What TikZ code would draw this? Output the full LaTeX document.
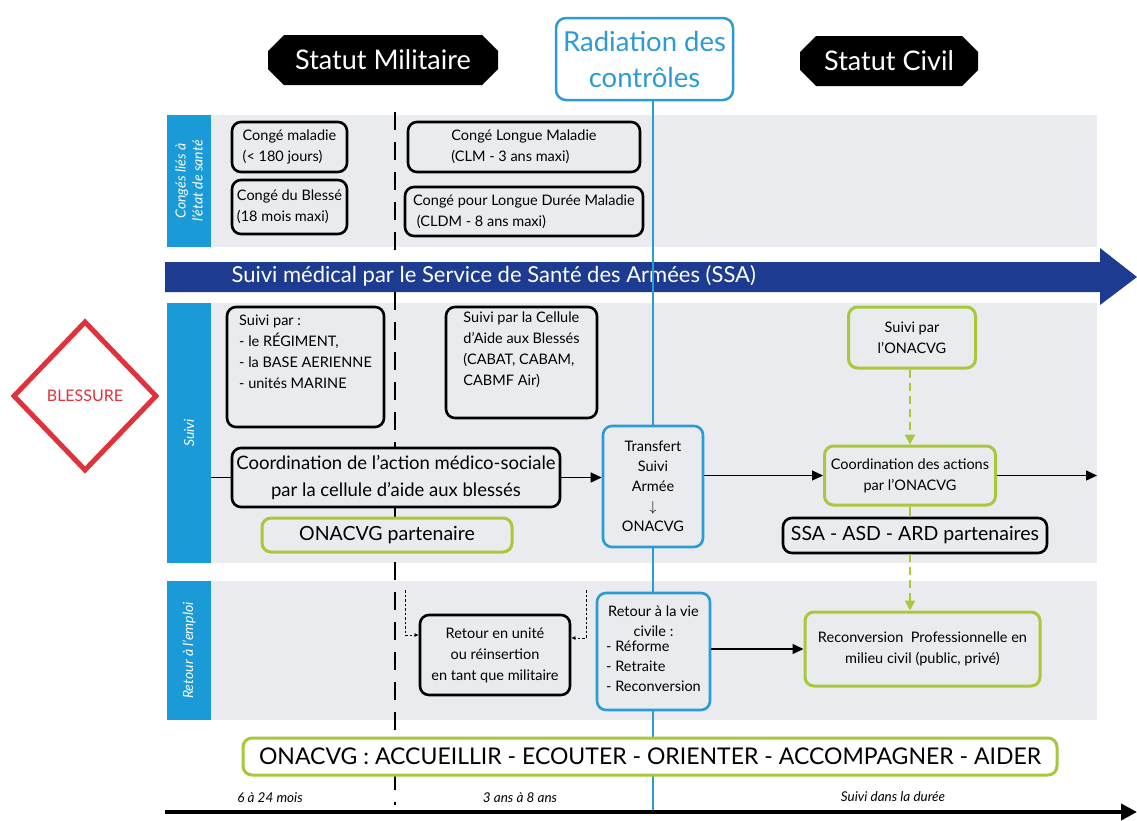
\documentclass[tikz,border=0pt]{standalone}
\usepackage{fontspec}
\setmainfont{Lato}
\usetikzlibrary{shapes.geometric,shapes.misc,arrows.meta}
\definecolor{bandgray}{HTML}{E9EBEE}
\definecolor{labelblue}{HTML}{1B9AD8}
\definecolor{navy}{HTML}{1D3C91}
\definecolor{lime}{HTML}{A8C83C}
\definecolor{radblue}{HTML}{2C9BD3}
\definecolor{blessred}{HTML}{E0323C}
\newcommand{\fs}[2]{\fontsize{#1}{#2}\selectfont}
\tikzset{
    box/.style={
        draw,
        rounded corners=9pt,
        line width=2.6pt,
        fill=bandgray,
        inner sep=1pt,
        align=center,
        font=\fs{14.5}{21}
    },
    blackbox/.style={box,draw=black},
    greenbox/.style={box,draw=lime,line width=3pt},
    bluebox/.style={box,draw=radblue},
    statut/.style={
        chamfered rectangle,
        chamfered rectangle xsep=7pt,
        chamfered rectangle ysep=9pt,
        fill=black,
        text=white,
        minimum height=50pt,
        inner sep=0pt,
        font=\fs{27}{30}
    },
    sidelabel/.style={
        fill=labelblue,
        text=white,
        rotate=90,
        align=center,
        minimum height=44pt,
        inner sep=0pt,
        font=\fs{14}{17}\itshape
    },
    flow/.style={-{Triangle[length=11pt,width=10pt]},line width=1.3pt},
    greenflow/.style={-{Triangle[length=10pt,width=10pt]},line width=2.2pt,lime,dash pattern=on 8pt off 5pt},
    dotflow/.style={-{Latex[length=4pt,width=4pt]},line width=1pt,dash pattern=on 2.5pt off 2pt},
    period/.style={font=\fs{13.5}{15}\itshape}
}
\begin{document}
\begin{tikzpicture}[x=1pt,y=-1pt]
    \useasboundingbox[fill=white] (0,0) rectangle (1137,820);
    % bands
    \foreach \top/\bot in {115/247,303/563,581/720}
        \fill[bandgray] (211,\top) rectangle (1097,\bot);
    \node[sidelabel,minimum width=132pt] (lconges) at (189,181) {Congés liés à\\l’état de santé};
    \node[sidelabel,minimum width=260pt] (lsuivi) at (189,433) {Suivi};
    \node[sidelabel,minimum width=139pt] (lretour) at (189,650.5) {Retour à l’emploi};
    % statut headers
    \node[statut,minimum width=230pt] (militaire) at (383,60) {Statut Militaire};
    \node[statut,minimum width=178pt] (civil) at (889,61) {Statut Civil};
    \node[draw=radblue,line width=2.5pt,rounded corners=10pt,fill=white,text=radblue,
        minimum width=177pt,minimum height=82pt,inner sep=1pt,align=center,font=\fs{27.5}{36}]
        (radiation) at (644.5,59) {Radiation des\\contrôles};
    % militaire limit
    \draw[line width=1.5pt,dash pattern=on 18pt off 12pt] (395,112) -- (395,805);
    % medical arrow
    \fill[navy] (165,262) -- (1100,262) -- (1100,248) -- (1137,277) -- (1100,305)
        -- (1100,292) -- (165,292) -- cycle;
    \node[text=white,anchor=west,font=\fs{22}{24}] (ssamed) at (228,276)
        {Suivi médical par le Service de Santé des Armées (SSA)};
    % conges
    \node[blackbox,minimum width=115pt,minimum height=50pt,align=left] (cmaladie) at (289.5,147)
        {Congé maladie\\(< 180 jours)};
    \node[blackbox,minimum width=115pt,minimum height=54pt,align=left] (cblesse) at (289.5,207)
        {Congé du Blessé\\(18 mois maxi)};
    \node[blackbox,minimum width=232pt,minimum height=50pt,align=left] (clm) at (524,147)
        {Congé Longue Maladie\\(CLM - 3 ans maxi)};
    \node[blackbox,minimum width=238pt,minimum height=49pt,align=left] (cldm) at (524,211.5)
        {Congé pour Longue Durée Maladie\\\ (CLDM - 8 ans maxi)};
    % blessure
    \node[diamond,draw=blessred,line width=5pt,fill=white,text=blessred,
        minimum width=144pt,minimum height=150pt,inner sep=0pt,font=\fs{16}{18}]
        (blessure) at (85,396) {BLESSURE};
    % suivi
    \node[blackbox,minimum width=157pt,minimum height=120pt,align=left] (suivipar) at (305.5,367)
        {Suivi par :\\- le RÉGIMENT,\\- la BASE AERIENNE\\- unités MARINE\\[10pt]};
    \node[blackbox,minimum width=151pt,minimum height=111pt,align=left] (cellule) at (521.5,362.5)
        {Suivi par la Cellule\\d’Aide aux Blessés\\(CABAT, CABAM,\\CABMF Air)\\[6pt]};
    \node[blackbox,minimum width=328pt,minimum height=59pt,font=\fs{18.5}{27}] (coord) at (396,477.5)
        {Coordination de l’action médico-sociale\\par la cellule d’aide aux blessés};
    \node[greenbox,minimum width=250pt,minimum height=34pt,font=\fs{19.5}{22}] (onapart) at (387,535)
        {ONACVG partenaire};
    \node[bluebox,minimum width=100pt,minimum height=121pt,font=\fs{14.5}{20}] (transfert) at (653,486.5)
        {Transfert\\Suivi\\Armée\\$\downarrow$\\ONACVG};
    \node[greenbox,minimum width=127pt,minimum height=61pt] (suivionac) at (912,337.5)
        {Suivi par\\l’ONACVG};
    \node[greenbox,minimum width=171pt,minimum height=59pt] (coordonac) at (910,475.5)
        {Coordination des actions\\par l’ONACVG};
    \node[blackbox,minimum width=264pt,minimum height=35pt,font=\fs{19.5}{22}] (partenaires) at (915,535.5)
        {SSA - ASD - ARD partenaires};
    % retour
    \node[blackbox,minimum width=150pt,minimum height=80pt] (retunite) at (495,655)
        {Retour en unité\\ou réinsertion\\en tant que militaire};
    \node[bluebox,minimum width=113pt,minimum height=117pt,font=\fs{14.5}{20}] (retvie) at (653.5,651.5)
        {Retour à la vie\\civile :\\\begin{tabular}{@{}l@{}}- Réforme\\- Retraite\\- Reconversion\end{tabular}};
    \node[greenbox,minimum width=235pt,minimum height=74pt] (reconv) at (922.5,649)
        {Reconversion\ \ Professionnelle en\\milieu civil (public, privé)};
    % radiation line
    \coordinate (radend) at (653,812);
    \draw[radblue,line width=2pt] (transfert.north |- radiation.south) -- (transfert.north);
    \draw[radblue,line width=2pt] (transfert.south) -- (transfert.south |- retvie.north);
    \draw[radblue,line width=2pt] (transfert.south |- retvie.south) -- (radend);
    % onacvg missions
    \node[greenbox,fill=white,minimum width=814pt,minimum height=37pt,font=\fs{23}{26}] (missions) at (650,756.5)
        {ONACVG : ACCUEILLIR - ECOUTER - ORIENTER - ACCOMPAGNER - AIDER};
    % connectors
    \coordinate (entry) at (211,477.5);
    \coordinate (exit) at (1097,475.5);
    \draw[line width=1.3pt] (entry) -- (coord.west);
    \draw[flow] (coord.east) -- (coord.east -| transfert.west);
    \draw[flow] (coordonac.west -| transfert.east) -- (coordonac.west);
    \draw[flow] (coordonac.east) -- (exit);
    \draw[greenflow] (suivionac.south -| coordonac.north) -- (coordonac.north);
    \draw[lime,line width=2.2pt] (coordonac.south) -- (coordonac.south |- partenaires.north);
    \draw[greenflow] (coordonac.south |- partenaires.south) -- (coordonac.south |- reconv.north);
    \draw[flow] (reconv.west -| retvie.east) -- (reconv.west);
    \coordinate (dleft) at (405,590);
    \coordinate (dright) at (586,590);
    \draw[dotflow] (dleft) |- ([yshift=20pt]retunite.west);
    \draw[dotflow] (dright) |- ([yshift=17pt]retunite.east);
    % timeline
    \coordinate (tstart) at (165,812);
    \coordinate (tend) at (1137,812);
    \draw[line width=4pt,-{Triangle[length=16pt,width=16pt]}] (tstart) -- (tend);
    \node[period] (p1) at (270,798) {6 à 24 mois};
    \node[period] (p2) at (520,798) {3 ans à 8 ans};
    \node[period] (p3) at (893,797) {Suivi dans la durée};
\end{tikzpicture}
\end{document}
